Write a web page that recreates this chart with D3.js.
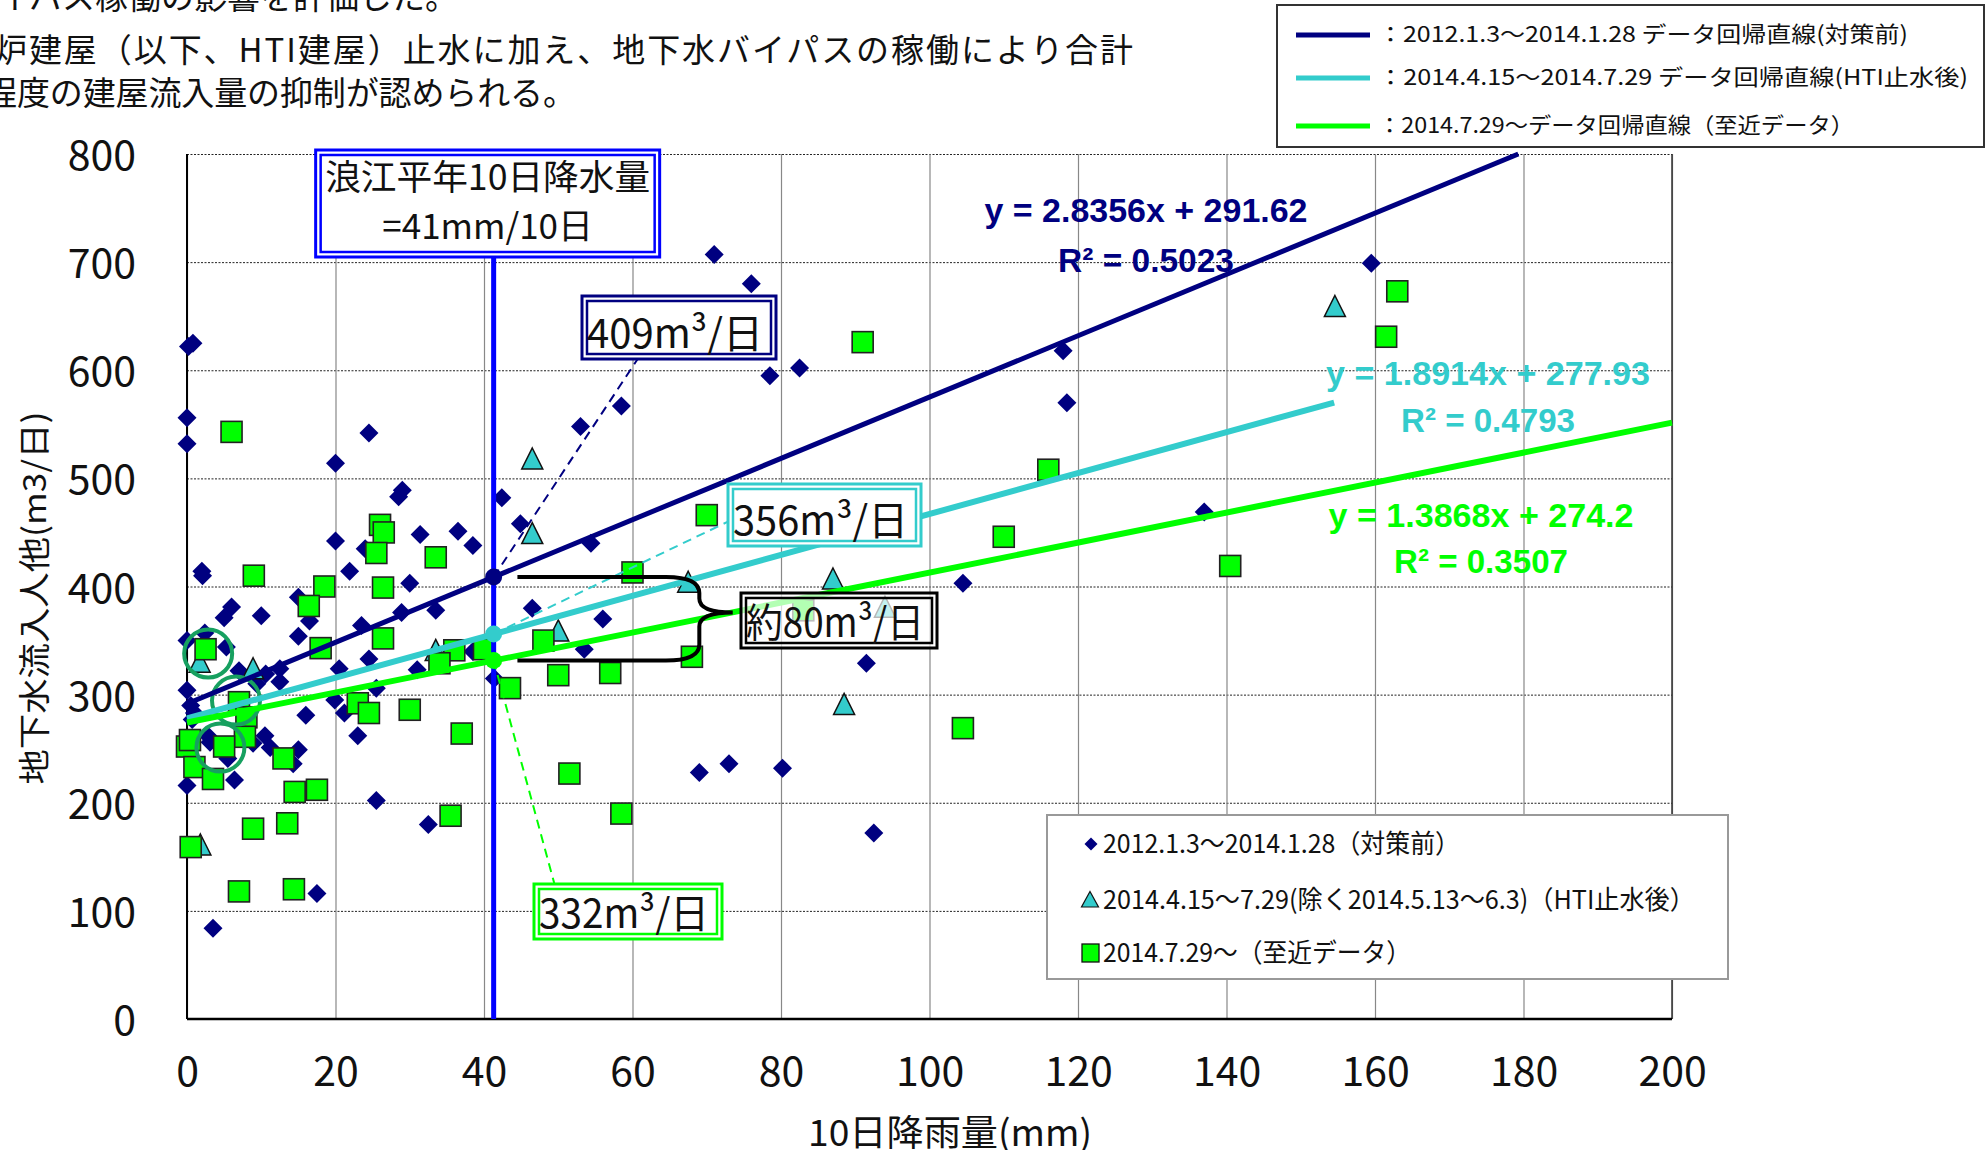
<!DOCTYPE html>
<html><head><meta charset="utf-8">
<script src="https://cdn.jsdelivr.net/npm/d3@7"></script>
<style>
body{margin:0;background:#fff}
svg{display:block}
text{font-family:"Noto Sans CJK JP","Noto Sans",sans-serif;fill:#111}
</style></head>
<body><svg id="c" width="1986" height="1150"></svg>
<script>
// ---------- data ----------
const xTicks = [0,20,40,60,80,100,120,140,160,180,200];
const yTicks = [0,100,200,300,400,500,600,700,800];

// 2012.1.3～2014.1.28 (対策前)  [10日降雨量, 流入量]
const preMeasures = [
 [0.2,622],[0.8,625],[0,556],[0,532],[24.5,542],[20,514],[29,489],[28.5,483],[42.4,482],[44.9,458],
 [53,548],[58.5,567],[20,442],[31.4,448],[36.5,451],[38.5,438],[2,414],[2.1,410],[21.9,414],[30,403],
 [54.4,440],[24,435],[15,390],[6,381],[5,371],[10,373],[16.5,368],[15,354],[23.5,364],[28.9,376],
 [33.5,378],[46.5,380],[56,370],[53.5,342],[0,350],[2.4,357],[5.3,344],[7,322],[10.6,319],[12.5,324],
 [12.5,312],[9.4,310],[20.5,324],[24.5,333],[31,323],[25.5,306],[38.5,340],[0,304],[0.5,290],[1,283],
 [0.7,277],[19.9,295],[21.2,283],[16,281],[23,262],[10.5,262],[11.2,251],[15,249],[8.9,255],[3.1,256],
 [2.8,262],[5.5,241],[6.4,221],[0,216],[14.3,236],[25.5,202],[32.5,180],[41.4,315],[17.5,116],[3.5,84],
 [91.5,329],[104.5,403],[69,228],[73,236],[80.2,232],[92.5,172],[71,707],[76,680],[78.5,595],[82.5,602],
 [118,618],[118.5,570],[159.5,699],[137,469]
];
// 2014.4.15～7.29 (HTI止水後)
const htiAfter = [
 [1.7,329],[8.9,323],[33.5,340],[46.5,517],[46.5,448],[50,358],[67.5,403],[87,406],[88.5,290],[94,380],
 [154.6,658],[1.8,160]
];
// 2014.7.29～ (至近データ)
const recent = [
 [6,543],[9,410],[26,457],[26.5,450],[25.5,431],[33.5,427],[18.5,400],[26.4,399],[60,413],[16.4,382],
 [26.4,352],[18,343],[2.5,342],[7,293],[8,279],[7.8,261],[5,252],[0,252],[0.4,258],[1,233],
 [3.5,222],[13,241],[14.5,210],[17.5,212],[8.9,176],[13.5,181],[0.5,159],[23,292],[24.5,283],[30,286],
 [37,264],[36,341],[40,342],[34,329],[43.5,306],[48,350],[50,318],[57,320],[51.5,227],[58.5,190],
 [35.5,188],[7,118],[14.4,120],[68,335],[70,466],[91,626],[104.5,269],[110,446],[116,508],[140.5,419],
 [161.5,631],[163,673],[83,378]
];

// regression lines
const fitSlopes = [2.8356, 1.8914, 1.3868];
const fitIntercepts = [291.62, 277.93, 274.2];
const fitXMax = [179.3, 154.5, 200];
const fitEquations = ["y = 2.8356x + 291.62","y = 1.8914x + 277.93","y = 1.3868x + 274.2"];
const fitR2 = ["R² = 0.5023","R² = 0.4793","R² = 0.3507"];

const refRain = 41.3;             // 浪江平年10日降水量 (line position)
const calloutLabels = ["409m³/日","356m³/日","約80m³/日","332m³/日"];
const topLegendLabels = [
 "：2012.1.3～2014.1.28 データ回帰直線(対策前)",
 "：2014.4.15～2014.7.29 データ回帰直線(HTI止水後)",
 "：2014.7.29～データ回帰直線（至近データ）"
];
const seriesLabels = [
 "2012.1.3～2014.1.28（対策前）",
 "2014.4.15～7.29(除く2014.5.13～6.3)（HTI止水後）",
 "2014.7.29～（至近データ）"
];
const circledPoints = [[2.85,338],[6.6,294.5],[4.5,251]];

// ---------- drawing ----------
const svg = d3.select("#c");
const L=187, R=1672, T=154, B=1019;
const x = d3.scaleLinear().domain([0,200]).range([L,R]);
const y = d3.scaleLinear().domain([0,800]).range([B,T]);
const NAVY="#000080", CYAN="#33cccc", GREEN="#00ff00", BLUE="#0000ff";

// header text (cut off at page edge, as in the source slide)
const hdr = svg.append("g").style("font-size","33px");
hdr.append("text").attr("x",458).attr("y",9).attr("text-anchor","end").text("バイパス稼働の影響を評価した。");
hdr.append("text").attr("x",-6).attr("y",62).attr("textLength",1139).attr("lengthAdjust","spacing")
   .text("炉建屋（以下、HTI建屋）止水に加え、地下水バイパスの稼働により合計");
hdr.append("text").attr("x",-16).attr("y",105).attr("textLength",592).attr("lengthAdjust","spacing")
   .text("程度の建屋流入量の抑制が認められる。");

// top-right legend of regression lines
const tl = svg.append("g");
tl.append("rect").attr("x",1277).attr("y",5).attr("width",707).attr("height",142)
  .attr("fill","#fff").attr("stroke","#333").attr("stroke-width",2);
const tlY=[35,78,126], tlCol=[NAVY,CYAN,GREEN], tlLen=[530,590,476];
topLegendLabels.forEach((t,i)=>{
  tl.append("line").attr("x1",1296).attr("x2",1370).attr("y1",tlY[i]).attr("y2",tlY[i])
    .attr("stroke",tlCol[i]).attr("stroke-width",5);
  tl.append("text").attr("x",1378).attr("y",tlY[i]+7).style("font-size","22px")
    .attr("textLength",tlLen[i]).attr("lengthAdjust","spacingAndGlyphs").text(t);
});

// plot background
svg.append("rect").attr("x",L).attr("y",T).attr("width",R-L).attr("height",B-T).attr("fill","#fff");

// gridlines
svg.append("g").attr("transform",`translate(${L},0)`)
  .call(d3.axisLeft(y).tickValues(yTicks).tickSize(-(R-L)).tickFormat(""))
  .call(g=>g.select(".domain").remove())
  .call(g=>g.selectAll("line").attr("stroke","#222").attr("stroke-width",1).attr("stroke-dasharray","2,1.5"));
svg.append("g").attr("transform",`translate(0,${B})`)
  .call(d3.axisBottom(x).tickValues(xTicks).tickSize(-(B-T)).tickFormat(""))
  .call(g=>g.select(".domain").remove())
  .call(g=>g.selectAll("line").attr("stroke","#888").attr("stroke-width",1.2));
// frame
svg.append("line").attr("x1",R).attr("x2",R).attr("y1",T).attr("y2",B).attr("stroke","#333").attr("stroke-width",1.5);
svg.append("line").attr("x1",L).attr("x2",L).attr("y1",T).attr("y2",B).attr("stroke","#000").attr("stroke-width",2);
svg.append("line").attr("x1",L).attr("x2",R).attr("y1",B).attr("y2",B).attr("stroke","#000").attr("stroke-width",2.5);

// axis labels
svg.append("g").attr("transform",`translate(${L},0)`)
  .call(d3.axisLeft(y).tickValues(yTicks).tickSize(0).tickPadding(51).tickFormat(d3.format("d")))
  .call(g=>g.select(".domain").remove())
  .call(g=>g.selectAll("text").style("font-size","41px").attr("fill","#111").attr("dy","0.38em").style("font-family","'Noto Sans CJK JP'"));
svg.append("g").attr("transform",`translate(0,${B})`)
  .call(d3.axisBottom(x).tickValues(xTicks).tickSize(0).tickPadding(38).tickFormat(d3.format("d")))
  .call(g=>g.select(".domain").remove())
  .call(g=>g.selectAll("text").style("font-size","41px").attr("fill","#111").style("font-family","'Noto Sans CJK JP'"));

svg.append("text").attr("x",950).attr("y",1146).attr("text-anchor","middle").style("font-size","36px")
  .attr("textLength",284).attr("lengthAdjust","spacingAndGlyphs").text("10日降雨量(mm)");
svg.append("text").attr("transform","translate(46,598) rotate(-90)").attr("text-anchor","middle")
  .style("font-size","32px").attr("textLength",373).attr("lengthAdjust","spacingAndGlyphs")
  .text("地下水流入人他(m3/日)");

// points
const diamondPath="M0,-9.5L9.5,0L0,9.5L-9.5,0Z";
const triPath="M0,-12L10.5,9L-10.5,9Z";
svg.append("g").selectAll("path").data(preMeasures).join("path")
  .attr("d",diamondPath).attr("transform",d=>`translate(${x(d[0])},${y(d[1])})`).attr("fill",NAVY);
svg.append("g").selectAll("path").data(htiAfter).join("path")
  .attr("d",triPath).attr("transform",d=>`translate(${x(d[0])},${y(d[1])})`)
  .attr("fill",CYAN).attr("stroke","#111").attr("stroke-width",1.5);
svg.append("g").selectAll("rect").data(recent).join("rect")
  .attr("x",d=>x(d[0])-10.5).attr("y",d=>y(d[1])-10.5).attr("width",21).attr("height",21)
  .attr("fill",GREEN).attr("stroke","#222").attr("stroke-width",1.6);

// annotation circles
svg.append("g").selectAll("circle").data(circledPoints).join("circle")
  .attr("cx",d=>x(d[0])).attr("cy",d=>y(d[1])).attr("r",24)
  .attr("fill","none").attr("stroke","#17a060").attr("stroke-width",4);

// reference rainfall line
const boxW=344, boxTop=150, boxH=107;
svg.append("line").attr("x1",x(refRain)).attr("x2",x(refRain)).attr("y1",boxTop+boxH).attr("y2",B)
  .attr("stroke",BLUE).attr("stroke-width",5);

// regression lines
const fitCol=[NAVY,CYAN,GREEN], fitW=[5,6,6];
fitSlopes.forEach((s,i)=>{
  svg.append("path").datum([0,fitXMax[i]])
    .attr("d",d3.line().x(v=>x(v)).y(v=>y(s*v+fitIntercepts[i])))
    .attr("stroke",fitCol[i]).attr("stroke-width",fitW[i]).attr("fill","none");
});
const fitAt = fitSlopes.map((s,i)=>s*refRain+fitIntercepts[i]);

// dashed leaders
const leaderEnds=[[60.9,612.5],[72.8,459.8],[49.5,124.6]];
leaderEnds.forEach((e,i)=>{
  svg.append("line").attr("x1",x(refRain)).attr("y1",y(fitAt[i])).attr("x2",x(e[0])).attr("y2",y(e[1]))
    .attr("stroke",fitCol[i]).attr("stroke-width",2).attr("stroke-dasharray","9,6");
});
// dots on the line
fitAt.forEach((v,i)=>{
  svg.append("circle").attr("cx",x(refRain)).attr("cy",y(v)).attr("r",8.5).attr("fill",fitCol[i]);
});

// brace
{
  const yt=y(fitAt[0]), yb=y(fitAt[2]), ym=y(376);
  const x0=x(44.5), x1=x(64.5), xs=x(69), xt=x(73.5);
  const p=`M${x0},${yt}L${x1},${yt}Q${xs},${yt} ${xs},${yt+16}L${xs},${ym-14}Q${xs},${ym} ${xt},${ym}`+
          `Q${xs},${ym} ${xs},${ym+14}L${xs},${yb-16}Q${xs},${yb} ${x1},${yb}L${x0},${yb}`;
  svg.append("path").attr("d",p).attr("fill","none").attr("stroke","#000").attr("stroke-width",4);
}

// regression equations
const eqPos=[[1146,222,272,323,176],[1488,385,432,324,174],[1481,527,573,305,174]];
fitEquations.forEach((t,i)=>{
  const p=eqPos[i];
  svg.append("text").attr("x",p[0]).attr("y",p[1]).attr("text-anchor","middle")
    .style("font-family","'Liberation Sans',Arial,sans-serif").style("font-weight","bold").style("font-size","34px")
    .style("fill",fitCol[i]).attr("textLength",p[3]).attr("lengthAdjust","spacingAndGlyphs").text(t);
  svg.append("text").attr("x",p[0]).attr("y",p[2]).attr("text-anchor","middle")
    .style("font-family","'Liberation Sans',Arial,sans-serif").style("font-weight","bold").style("font-size","34px")
    .style("fill",fitCol[i]).attr("textLength",p[4]).attr("lengthAdjust","spacingAndGlyphs").text(fitR2[i]);
});

// double-bordered boxes
function dbox(x0,y0,w,h,col,fillOp){
  const g=svg.append("g");
  g.append("rect").attr("x",x0).attr("y",y0).attr("width",w).attr("height",h)
    .attr("fill","#fff").attr("fill-opacity",fillOp).attr("stroke",col).attr("stroke-width",3);
  g.append("rect").attr("x",x0+5).attr("y",y0+5).attr("width",w-10).attr("height",h-10)
    .attr("fill","none").attr("stroke",col).attr("stroke-width",2.5);
  return g;
}
// 浪江 box
{
  const cx=x(refRain)-6;
  const g=dbox(cx-boxW/2,boxTop,boxW,boxH,BLUE,1);
  g.append("text").attr("x",cx).attr("y",boxTop+40).attr("text-anchor","middle")
    .style("font-size","35px").attr("textLength",325).attr("lengthAdjust","spacingAndGlyphs").text("浪江平年10日降水量");
  g.append("text").attr("x",cx).attr("y",boxTop+89).attr("text-anchor","middle")
    .style("font-size","35px").text("=41mm/10日");
}
const boxes=[[582,296,194,63,NAVY,1],[728,484,193,62,CYAN,1],[741,593,196,55,"#000",0.7],[534,884,188,55,GREEN,1]];
boxes.forEach((b,i)=>{
  const g=dbox(b[0],b[1],b[2],b[3],b[4],b[5]);
  g.append("text").attr("x",b[0]+b[2]/2-4).attr("y",b[1]+b[3]-11).attr("text-anchor","middle")
    .style("font-size","40px").attr("textLength",b[2]-18).attr("lengthAdjust","spacingAndGlyphs").text(calloutLabels[i]);
});

// series legend
const lg=svg.append("g");
lg.append("rect").attr("x",1047).attr("y",815).attr("width",681).attr("height",164)
  .attr("fill","#fff").attr("stroke","#999").attr("stroke-width",2);
const lgY=[844,900,953], lgLen=[357,592,308];
lg.append("path").attr("d","M0,-6.5L6.5,0L0,6.5L-6.5,0Z").attr("transform",`translate(1091,${lgY[0]})`).attr("fill",NAVY);
lg.append("path").attr("d","M0,-8.5L8.5,7L-8.5,7Z").attr("transform",`translate(1090,${lgY[1]})`)
  .attr("fill",CYAN).attr("stroke","#111").attr("stroke-width",1.2);
lg.append("rect").attr("x",1082).attr("y",lgY[2]-9).attr("width",17).attr("height",18)
  .attr("fill",GREEN).attr("stroke","#111").attr("stroke-width",1.3);
seriesLabels.forEach((t,i)=>{
  lg.append("text").attr("x",1103).attr("y",lgY[i]+9).style("font-size","26px")
    .attr("textLength",lgLen[i]).attr("lengthAdjust","spacingAndGlyphs").text(t);
});
</script></body></html>
